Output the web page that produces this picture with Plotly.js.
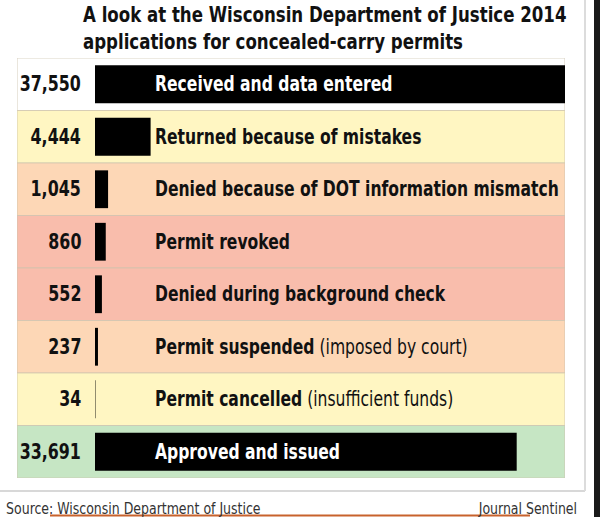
<!DOCTYPE html>
<html>
<head>
<meta charset="utf-8">
<script src="https://cdn.plot.ly/plotly-3.0.1.min.js"></script>
<style>
html,body{margin:0;padding:0;background:#fff;}
#chart{width:600px;height:517px;}
</style>
</head>
<body>
<div id="chart"></div>
<script>
// ---- data ----
var categories = ["received","returned","dot","revoked","background","suspended","cancelled","approved"];
var values = [37550, 4444, 1045, 860, 552, 237, 34, 33691];
var valueLabels = ["37,550","4,444","1,045","860","552","237","34","33,691"];
var labelMain = ["Received and data entered","Returned because of mistakes","Denied because of DOT information mismatch","Permit revoked","Denied during background check","Permit suspended","Permit cancelled","Approved and issued"];
var labelNote = ["","","","","","(imposed by court)","(insufficient funds)",""];
var titleLines = ["A look at the Wisconsin Department of Justice 2014","applications for concealed-carry permits"];
var sourceText = "Source: Wisconsin Department of Justice";
var creditText = "Journal Sentinel";

// ---- styles ----
var bandColors = ["#ffffff","#fff6c2","#fdd7b6","#f9bdac","#f9bdac","#fdd7b6","#fff6c2","#c6e6c4"];
var labelColors = ["#ffffff","#111111","#111111","#111111","#111111","#111111","#111111","#ffffff"];

var FONT = "DejaVu Sans Condensed, Roboto, sans-serif";
var W = 600, H = 517;
var M = {l: 17, r: 35, t: 58, b: 39};
var pw = W - M.l - M.r, ph = H - M.t - M.b;
function px2x(px){ return (px - M.l) / pw; }
function px2y(py){ return 1 - (py - M.t) / ph; }

var maxV = Math.max.apply(null, values);
var barStartPx = 95;
var xLeft = -maxV * (barStartPx - M.l) / (pw - (barStartPx - M.l));
var n = categories.length;

var bandTrace = {
  type: 'bar', orientation: 'h', y: categories,
  x: categories.map(function(){ return maxV - xLeft; }),
  base: categories.map(function(){ return xLeft; }),
  width: 1,
  marker: {color: bandColors, line: {color: 'rgba(205,195,175,0.7)', width: 1.2}},
  hoverinfo: 'skip', showlegend: false
};
var barTrace = {
  type: 'bar', orientation: 'h', y: categories, x: values, base: 0,
  width: 0.72,
  marker: {color: '#000000'},
  hoverinfo: 'skip', showlegend: false
};

var annotations = [];
var squeeze = [];
for (var i = 0; i < n; i++) {
  annotations.push({
    xref: 'x', yref: 'y', x: 0, y: categories[i], xanchor: 'right', yanchor: 'middle',
    xshift: -12, showarrow: false, text: '<b>' + valueLabels[i] + '</b>',
    font: {family: FONT, size: 21, color: '#111111'}
  });
  squeeze.push(0.84);
  var t = '<b>' + labelMain[i] + '</b>' + (labelNote[i] ? ' ' + labelNote[i] : '');
  annotations.push({
    xref: 'x', yref: 'y', x: 0, y: categories[i], xanchor: 'left', yanchor: 'middle',
    xshift: 58, showarrow: false, text: t,
    font: {family: FONT, size: 21, color: labelColors[i]}
  });
  squeeze.push(0.825);
}
annotations.push({
  xref: 'paper', yref: 'paper', x: px2x(81), y: px2y(1), xanchor: 'left', yanchor: 'top', align: 'left',
  showarrow: false, text: '<b>' + titleLines.join('<br>') + '</b>',
  font: {family: FONT, size: 21, color: '#111111'}
});
squeeze.push(0.88);
annotations.push({
  xref: 'paper', yref: 'paper', x: px2x(4), y: px2y(508), xanchor: 'left', yanchor: 'middle',
  showarrow: false, text: sourceText,
  font: {family: FONT, size: 16, color: '#333333'}
});
squeeze.push(0.87);
annotations.push({
  xref: 'paper', yref: 'paper', x: px2x(579), y: px2y(508), xanchor: 'right', yanchor: 'middle',
  showarrow: false, text: creditText,
  font: {family: FONT, size: 16, color: '#333333'}
});
squeeze.push(0.87);

var shapes = [
  {type: 'line', xref: 'paper', yref: 'paper', x0: px2x(0), x1: px2x(585), y0: px2y(491), y1: px2y(491), line: {color: '#d8d8d8', width: 2}},
  {type: 'line', xref: 'paper', yref: 'paper', x0: px2x(585), x1: px2x(585), y0: px2y(0), y1: px2y(491), line: {color: '#dcdcdc', width: 2}},
  {type: 'rect', xref: 'paper', yref: 'paper', x0: px2x(594), x1: px2x(601), y0: px2y(0), y1: px2y(518), fillcolor: '#1a1a1a', line: {width: 0}},
  {type: 'line', xref: 'paper', yref: 'paper', x0: px2x(50), x1: px2x(530), y0: px2y(515.5), y1: px2y(515.5), line: {color: '#c8622c', width: 2}}
];

var layout = {
  width: W, height: H, margin: M,
  paper_bgcolor: '#ffffff', plot_bgcolor: '#ffffff',
  barmode: 'overlay',
  xaxis: {range: [xLeft, maxV], visible: false, fixedrange: true},
  yaxis: {type: 'category', categoryorder: 'array', categoryarray: categories, range: [n - 0.5, -0.5], visible: false, fixedrange: true},
  annotations: annotations,
  shapes: shapes,
  showlegend: false
};

Plotly.newPlot('chart', [bandTrace, barTrace], layout, {displayModeBar: false, staticPlot: true}).then(function(gd){
  // condense the type horizontally, like the newspaper's condensed face
  annotations.forEach(function(a, idx){
    var g = gd.querySelector('g.annotation[data-index="' + idx + '"]');
    if (!g) return;
    var txt = g.querySelector('text');
    if (!txt) return;
    var origin = a.xanchor === 'right' ? '100% 50%' : (a.xanchor === 'left' ? '0% 50%' : '50% 50%');
    txt.style.transformBox = 'fill-box';
    txt.style.transformOrigin = origin;
    txt.style.transform = 'scaleX(' + squeeze[idx] + ')';
  });
});
</script>
</body>
</html>
